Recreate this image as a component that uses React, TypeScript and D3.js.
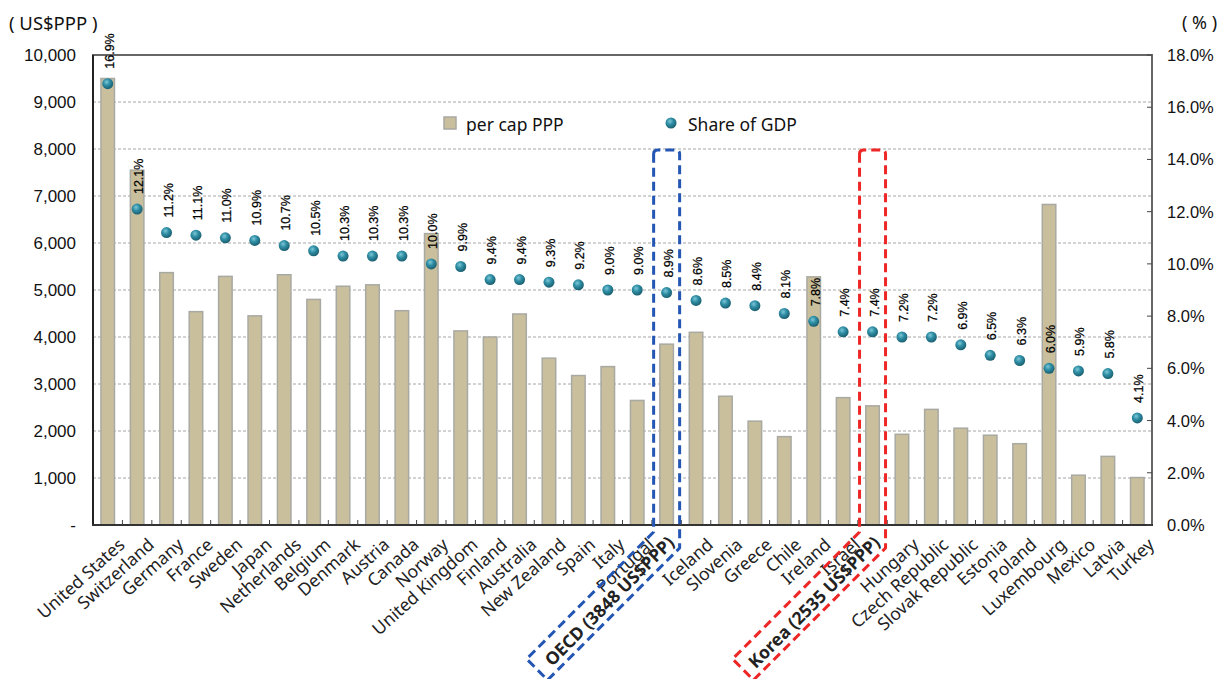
import React from 'react';
import * as d3 from 'd3';

const countries = [
  'United States', 'Switzerland', 'Germany', 'France', 'Sweden', 'Japan', 'Netherlands', 'Belgium',
  'Denmark', 'Austria', 'Canada', 'Norway', 'United Kingdom', 'Finland', 'Australia', 'New Zealand',
  'Spain', 'Italy', 'Portugal', 'OECD', 'Iceland', 'Slovenia', 'Greece', 'Chile', 'Ireland', 'Israel',
  'Korea', 'Hungary', 'Czech Republic', 'Slovak Republic', 'Estonia', 'Poland', 'Luxembourg',
  'Mexico', 'Latvia', 'Turkey',
];

// per capita health spending, US$PPP
const perCapPPP = [
  9500, 7550, 5370, 4540, 5290, 4450, 5325, 4800, 5080, 5110, 4560, 6200, 4130, 4000, 4490, 3550,
  3180, 3370, 2650, 3848, 4100, 2740, 2210, 1880, 5280, 2710, 2535, 1930, 2460, 2060, 1910, 1730,
  6820, 1060, 1460, 1010,
];

// share of GDP, %
const shareOfGDP = [
  16.9, 12.1, 11.2, 11.1, 11.0, 10.9, 10.7, 10.5, 10.3, 10.3, 10.3, 10.0, 9.9, 9.4, 9.4, 9.3,
  9.2, 9.0, 9.0, 8.9, 8.6, 8.5, 8.4, 8.1, 7.8, 7.4, 7.4, 7.2, 7.2, 6.9, 6.5, 6.3,
  6.0, 5.9, 5.8, 4.1,
];

const leftTicks = [0, 1000, 2000, 3000, 4000, 5000, 6000, 7000, 8000, 9000, 10000];
const rightTicks = [0, 2, 4, 6, 8, 10, 12, 14, 16, 18];

const highlights = [
  { name: 'OECD', label: 'OECD (3848 US$PPP)', color: '#2456b4' },
  { name: 'Korea', label: 'Korea (2535 US$PPP)', color: '#ee2626' },
];

const W = 1221;
const H = 679;
const margin = { top: 55, right: 69, bottom: 154, left: 93 };

const App = () => {
  const x = d3.scaleBand<string>()
    .domain(countries)
    .range([margin.left, W - margin.right])
    .paddingInner(0.54)
    .paddingOuter(0.27);
  const yL = d3.scaleLinear().domain([0, 10000]).range([H - margin.bottom, margin.top]);
  const yR = d3.scaleLinear().domain([0, 18]).range([H - margin.bottom, margin.top]);
  const step = x.step();
  const cx = (c: string) => (x(c) ?? 0) + x.bandwidth() / 2;
  const x0 = margin.left;
  const x1 = W - margin.right;
  const yBase = yL(0);
  const yTop = yL(10000);
  const fmtL = d3.format(',');
  const fmtR = (v: number) => d3.format('.1f')(v) + '%';
  const axisFont = '"Liberation Sans", Arial, sans-serif';
  const catFont = '"Noto Sans", "Open Sans", sans-serif';

  const boxPath = (c: string) => {
    const m = cx(c);
    const half = 13;
    const top = 150;
    const yR0 = 548; // right edge bends here
    const yL0 = 532; // left edge bends here
    const L = 132;
    const d = 21;
    const r = 4;
    return [
      `M${m - half},${top + r}`,
      `Q${m - half},${top} ${m - half + r},${top}`,
      `L${m + half - r},${top}`,
      `Q${m + half},${top} ${m + half},${top + r}`,
      `L${m + half},${yR0}`,
      `L${m + half - L},${yR0 + L}`,
      `L${m + half - L - d},${yR0 + L - d}`,
      `L${m - half},${yL0}`,
      'Z',
    ].join(' ');
  };

  return (
    <svg width={W} height={H} style={{ position: 'absolute', left: 0, top: 0, background: '#fff' }}>
      <defs>
        <radialGradient id="dotGrad" cx="40%" cy="35%" r="65%">
          <stop offset="0%" stopColor="#7fc7d6" />
          <stop offset="45%" stopColor="#2f8fa6" />
          <stop offset="100%" stopColor="#1b5f70" />
        </radialGradient>
      </defs>

      {/* gridlines */}
      {leftTicks.slice(1, -1).map(t => (
        <line key={t} x1={x0} x2={x1} y1={yL(t)} y2={yL(t)}
          stroke="#a6a6a6" strokeWidth={1} strokeDasharray="3,2" />
      ))}

      {/* bars */}
      {countries.map((c, i) => (
        <rect key={c} x={x(c)} y={yL(perCapPPP[i])} width={x.bandwidth()}
          height={yBase - yL(perCapPPP[i])}
          fill="#c9bf9d" stroke="#a9a9a3" strokeWidth={1.5} />
      ))}

      {/* frame */}
      <rect x={x0} y={yTop} width={x1 - x0} height={yBase - yTop} fill="none" stroke="#666" strokeWidth={2} />
      <line x1={x0} x2={x0} y1={yTop} y2={yBase + 1} stroke="#222" strokeWidth={2} />
      <line x1={x0 - 1} x2={x1 + 1} y1={yBase} y2={yBase} stroke="#333" strokeWidth={2} />

      {/* bottom ticks between categories */}
      {countries.slice(1).map((c, i) => (
        <line key={c} x1={x0 + (i + 1) * step} x2={x0 + (i + 1) * step} y1={yBase} y2={yBase - 5}
          stroke="#444" strokeWidth={1} />
      ))}
      {/* right ticks */}
      {rightTicks.map(t => (
        <line key={t} x1={x1} x2={x1 - 5} y1={yR(t)} y2={yR(t)} stroke="#444" strokeWidth={1} />
      ))}

      {/* left axis labels */}
      {leftTicks.map(t => (
        <text key={t} x={76} y={yL(t)} textAnchor="end" dominantBaseline="central"
          fontFamily={axisFont} fontSize={17} fill="#111">
          {t === 0 ? '-' : fmtL(t)}
        </text>
      ))}
      {rightTicks.map(t => (
        <text key={t} x={1167} y={yR(t)} dominantBaseline="central"
          fontFamily={axisFont} fontSize={16.5} fill="#111">
          {fmtR(t)}
        </text>
      ))}
      <text x={9} y={22} dominantBaseline="central" fontFamily={catFont} fontSize={18.5} fill="#111">
        ( US$PPP )
      </text>
      <text x={1182} y={22} dominantBaseline="central" fontFamily={catFont} fontSize={18} fill="#111">
        ( % )
      </text>

      {/* dots */}
      {countries.map((c, i) => (
        <circle key={c} cx={cx(c)} cy={yR(shareOfGDP[i])} r={5.5} fill="url(#dotGrad)" />
      ))}
      {/* dot labels */}
      {countries.map((c, i) => (
        <text key={c} transform={`translate(${cx(c) + 2},${yR(shareOfGDP[i]) - 15}) rotate(-90)`}
          dominantBaseline="central" fontFamily={axisFont} fontSize={12.5} fill="#000"
          stroke="#000" strokeWidth={0.25}>
          {d3.format('.1f')(shareOfGDP[i]) + '%'}
        </text>
      ))}

      {/* legend */}
      <rect x={444} y={117} width={12} height={12} fill="#c9bf9d" stroke="#a9a9a3" strokeWidth={1.5} />
      <text x={466} y={124} dominantBaseline="central" fontFamily={catFont} fontSize={17.5} fill="#111">
        per cap PPP
      </text>
      <circle cx={671} cy={123} r={5.5} fill="url(#dotGrad)" />
      <text x={688} y={124} dominantBaseline="central" fontFamily={catFont} fontSize={17.5} fill="#111">
        Share of GDP
      </text>

      {/* category labels */}
      {countries.map(c => {
        const hl = highlights.find(h => h.name === c);
        const t = hl
          ? `translate(${cx(c) - 2},${yBase + 8}) rotate(-45)`
          : `translate(${cx(c) + 8},${yBase + 10}) rotate(-42)`;
        return (
          <text key={c} transform={t}
            textAnchor="end" dominantBaseline="hanging" fontFamily={catFont}
            fontSize={17.5} fontWeight={hl ? 'bold' : 'normal'} fill="#222">
            {hl ? hl.label : c}
          </text>
        );
      })}

      {/* highlight boxes */}
      {highlights.map(h => (
        <path key={h.name} d={boxPath(h.name)} fill="none" stroke={h.color} strokeWidth={3}
          strokeDasharray="9,5" strokeLinejoin="round" />
      ))}
    </svg>
  );
};

export default App;
